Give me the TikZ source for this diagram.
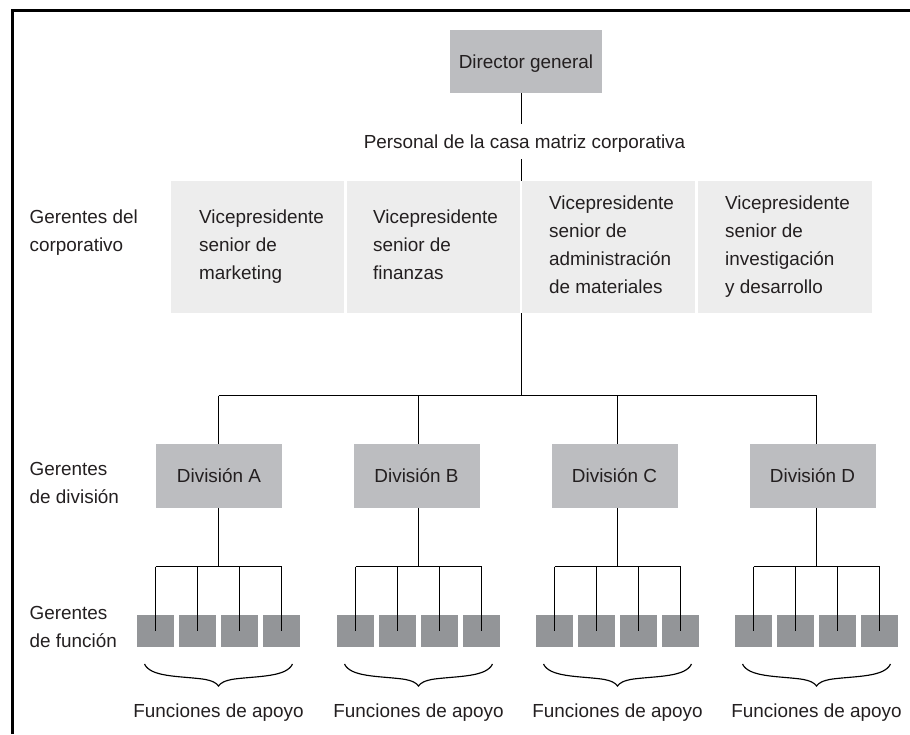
\documentclass[tikz,border=0pt]{standalone}
\usepackage{fontspec}
\setmainfont{Liberation Sans}
\usetikzlibrary{calc}
\definecolor{dirgray}{HTML}{BCBDC0}
\definecolor{vpgray}{HTML}{EDEDED}
\definecolor{fngray}{HTML}{939598}
\definecolor{txt}{HTML}{231F20}
\begin{document}
\begin{tikzpicture}[x=1pt,y=-1pt,
  every node/.style={font=\fontsize{18.9}{28}\selectfont, text=txt},
  conn/.style={draw=black, line width=1.15pt},
  frameline/.style={draw=black, line width=2.6pt},
  dirbox/.style={fill=dirgray, minimum width=152pt, minimum height=63pt, inner sep=0pt, text height=13.5pt, text depth=0pt},
  vpbox/.style={fill=vpgray, minimum height=132pt, inner sep=0pt},
  divbox/.style={fill=dirgray, minimum width=126pt, minimum height=64pt, inner sep=0pt, text height=13.5pt, text depth=0pt},
  fnbox/.style={fill=fngray, minimum width=37pt, minimum height=32pt, inner sep=0pt},
  multitext/.style={align=left, anchor=north west, inner sep=0pt},
  plain/.style={inner xsep=0pt, inner ysep=11pt, text height=13.5pt, text depth=0pt}
]
\useasboundingbox (0,0) rectangle (910,734);
\draw[frameline] (12.5,734) -- (12.5,10.7) -- (910,10.7);

\coordinate (trunk) at (521.5,0);
\coordinate (hb) at (0,395.5);
\coordinate (fb) at (0,566.5);

% top
\node[dirbox] (dir) at (526,61.5) {Director general};
\node[plain] (pers) at (524.5,141.5) {Personal de la casa matriz corporativa};

% VP boxes
\node[vpbox, minimum width=173pt] (vp1) at (257.5,247) {};
\node[vpbox, minimum width=173pt] (vp2) at (433.5,247) {};
\node[vpbox, minimum width=173pt] (vp3) at (608.5,247) {};
\node[vpbox, minimum width=174pt] (vp4) at (785,247) {};
\node[multitext] (vp1t) at (199,209.8) {Vicepresidente\\senior de\\marketing};
\node[multitext] (vp2t) at (373,209.8) {Vicepresidente\\senior de\\finanzas};
\node[multitext] (vp3t) at (549,195.8) {Vicepresidente\\senior de\\administración\\de materiales};
\node[multitext] (vp4t) at (725,195.8) {Vicepresidente\\senior de\\investigación\\y desarrollo};

% left labels
\node[multitext] (lab1) at (29.5,209.8) {Gerentes del\\corporativo};
\node[multitext] (lab2) at (29.5,462.5) {Gerentes\\de división};
\node[multitext] (lab3) at (29.5,606.5) {Gerentes\\de función};

% trunk connectors
\draw[conn] (dir.south -| trunk) -- (trunk |- pers.north);
\draw[conn] (pers.south -| trunk) -- (trunk |- vp2.north);
\draw[conn] (trunk |- vp2.south) -- (trunk |- hb);
\coordinate (stemA) at (218.5,0);
\coordinate (stemD) at (816.5,0);
\draw[conn] (stemA |- hb) -- (stemD |- hb);

\foreach \g/\gx/\dx in {A/218.5/219, B/418.5/416.5, C/617.5/614.5, D/816.5/812.5} {
  \node[divbox] (div\g) at (\dx,476) {División \g};
  \foreach \i/\o in {1/-63,2/-21,3/21,4/63} {
    \node[fnbox] (f\g\i) at (\gx+\o,631) {};
  }
  \coordinate (stem\g) at (\gx,0);
  \draw[conn] (stem\g |- hb) -- (stem\g |- div\g.north);
  \draw[conn] (stem\g |- div\g.south) -- (stem\g |- fb);
  \draw[conn] (f\g1 |- fb) -- (f\g4 |- fb);
  \foreach \i in {1,...,4} {
    \draw[conn] (f\g\i |- fb) -- (f\g\i.center);
  }
  \draw[conn] (\gx-74,664) .. controls (\gx-68,677) and (\gx-40,676) .. (\gx-16,679)
     .. controls (\gx-6,680.5) and (\gx-2,683) .. (\gx,686)
     .. controls (\gx+2,683) and (\gx+6,680.5) .. (\gx+16,679)
     .. controls (\gx+40,676) and (\gx+68,677) .. (\gx+74,664);
  \node[anchor=base, inner sep=0pt] (fun\g) at (\gx,717) {Funciones de apoyo};
}
\end{tikzpicture}
\end{document}
